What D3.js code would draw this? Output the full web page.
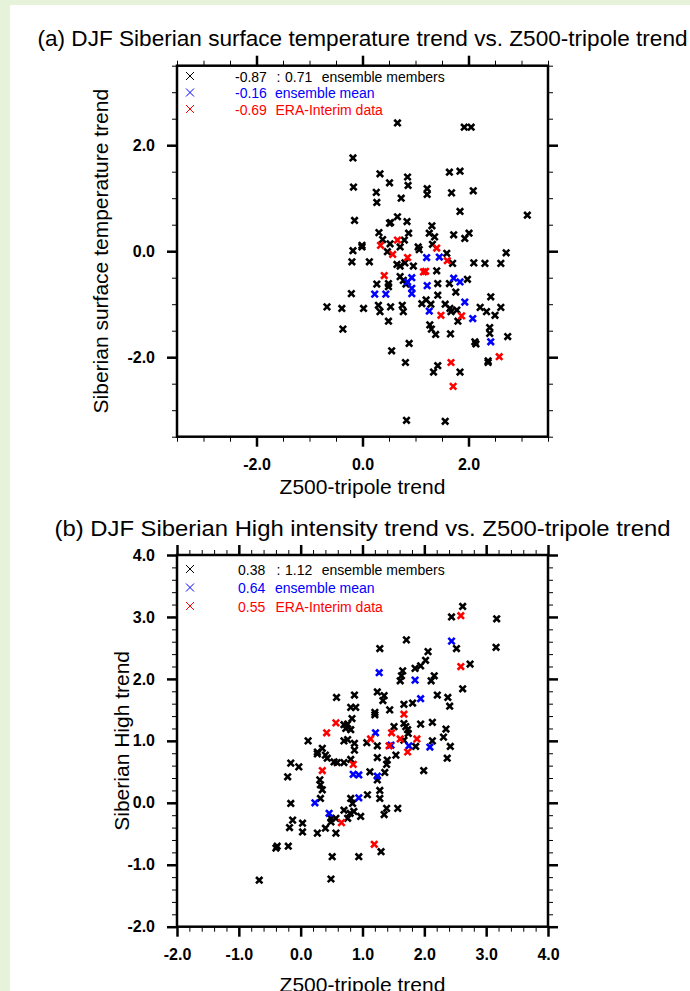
<!DOCTYPE html>
<html>
<head>
<meta charset="utf-8">
<script src="https://cdn.jsdelivr.net/npm/d3@7"></script>
<style>
  html, body { margin: 0; padding: 0; background: #e6f2d9; }
  svg { display: block; }
  text { font-family: "Liberation Sans", Arial, Helvetica, sans-serif; }
</style>
</head>
<body>
<svg id="fig" width="690" height="991"></svg>
<script>
// ---------- Panel (a): Siberian surface temperature trend vs. Z500-tripole trend ----------
const tempMembers = [
  [0.66,2.42],[1.92,2.34],[2.05,2.34],[-0.18,1.76],[0.33,1.46],[1.64,1.49],[1.84,1.51],
  [-0.17,1.21],[0.51,1.29],[0.85,1.40],[0.86,1.24],[0.26,1.11],[0.27,0.92],[1.22,1.18],
  [1.22,1.07],[1.68,1.10],[2.09,1.14],[0.73,1.00],[1.84,0.75],[-0.15,0.58],[3.11,0.68],
  [0.66,0.65],[0.51,0.53],[0.84,0.56],[0.53,0.54],[1.31,0.48],[1.26,0.34],[1.36,0.27],
  [0.31,0.35],[0.87,0.34],[1.72,0.31],[2.01,0.34],[1.93,0.24],[0.38,0.22],[-0.18,0.01],
  [-0.01,0.11],[-0.01,0.08],[2.71,-0.03],[1.05,0.08],[1.07,0.03],[0.52,0.14],[0.47,-0.01],
  [0.71,0.08],[0.79,0.21],[1.32,0.13],[1.59,-0.04],[1.70,-0.23],[-0.20,-0.20],[0.13,-0.20],
  [0.71,-0.28],[0.96,-0.28],[0.65,-0.25],[0.80,-0.22],[2.10,-0.22],[2.31,-0.23],[2.61,-0.23],
  [1.40,-0.37],[0.71,-0.48],[0.77,-0.55],[0.82,-0.62],[0.27,-0.62],[0.49,-0.61],[0.49,-0.67],
  [1.42,-0.61],[1.42,-0.83],[1.98,-0.53],[1.76,-0.77],[1.64,-0.61],[-0.21,-0.80],[2.42,-0.86],
  [-0.67,-1.05],[-0.39,-1.08],[0.02,-1.08],[0.30,-1.02],[0.33,-1.14],[0.53,-1.05],[0.75,-1.02],
  [0.77,-1.14],[1.12,-0.99],[1.20,-0.92],[1.29,-1.00],[1.56,-1.00],[1.65,-1.08],[1.67,-1.14],
  [1.78,-1.11],[1.80,-1.32],[2.22,-1.06],[2.34,-1.14],[2.50,-1.21],[2.61,-1.06],[-0.37,-1.47],
  [0.49,-1.32],[1.27,-1.39],[1.30,-1.47],[1.38,-1.57],[1.66,-1.56],[2.40,-1.44],[2.40,-1.55],
  [2.12,-1.71],[2.14,-1.75],[2.74,-1.61],[0.55,-1.88],[0.88,-1.74],[2.37,-2.07],[2.37,-2.10],
  [0.81,-2.10],[1.42,-2.16],[1.34,-2.28],[1.84,-2.28],[0.83,-3.19],[1.56,-3.21]
];
const tempMean = [
  [1.21,-0.12],[1.45,-0.11],[0.85,-0.58],[0.93,-0.50],[0.93,-0.70],[0.93,-0.80],[0.23,-0.81],
  [0.44,-0.81],[1.22,-0.65],[1.72,-0.51],[1.84,-0.58],[1.93,-0.96],[1.26,-1.13],[2.08,-1.27],
  [2.42,-1.71]
];
const tempEra = [
  [0.66,0.21],[0.34,0.11],[0.57,-0.06],[0.85,-0.12],[1.40,0.06],[1.60,-0.18],[0.41,-0.46],
  [1.15,-0.39],[1.19,-0.38],[1.48,-1.21],[1.87,-1.22],[2.58,-1.99],[1.67,-2.10],[1.71,-2.55]
];
// correlations printed in the legend: member range, ensemble mean, ERA-Interim
const tempCorrRange = [-0.87, 0.71];
const tempCorrMean = -0.16;
const tempCorrEra = -0.69;

// ---------- Panel (b): Siberian High intensity trend vs. Z500-tripole trend ----------
const highMembers = [
  [2.62,3.17],[2.44,3.00],[3.17,2.97],[1.71,2.63],[1.28,2.49],[2.52,2.49],[3.16,2.51],
  [2.06,2.44],[2.02,2.30],[1.94,2.21],[1.85,2.17],[2.74,2.24],[1.65,2.13],[1.63,2.05],
  [1.61,1.97],[2.16,2.05],[2.11,1.97],[2.62,1.84],[0.58,1.70],[0.87,1.74],[1.24,1.79],
  [1.35,1.73],[1.33,1.65],[2.21,1.74],[2.38,1.70],[2.41,1.56],[0.81,1.54],[0.89,1.54],
  [1.44,1.50],[1.67,1.59],[1.81,1.61],[1.20,1.46],[1.20,1.42],[0.83,1.36],[0.70,1.26],
  [0.76,1.27],[0.73,1.20],[0.81,1.18],[0.70,1.00],[0.76,1.02],[0.12,1.00],[0.87,0.96],
  [0.87,0.85],[1.67,1.28],[1.70,1.23],[1.73,1.18],[1.74,1.12],[1.51,1.23],[1.24,0.92],
  [1.07,0.97],[1.67,1.01],[1.86,0.91],[1.94,1.27],[2.13,1.30],[2.35,1.19],[2.31,1.06],
  [2.42,0.91],[2.13,1.00],[2.37,0.72],[1.99,0.52],[0.27,0.82],[0.27,0.79],[0.35,0.88],
  [0.40,0.77],[0.43,0.72],[0.54,0.66],[0.59,0.65],[0.70,0.65],[0.81,0.70],[-0.16,0.64],
  [-0.03,0.58],[-0.21,0.42],[1.12,0.50],[1.24,0.37],[1.36,0.49],[1.24,0.73],[1.40,0.69],
  [1.39,0.62],[1.54,0.77],[0.31,0.37],[0.32,0.29],[0.35,0.21],[0.32,0.07],[-0.16,-0.01],
  [0.81,0.07],[0.84,-0.01],[0.70,-0.12],[0.80,-0.17],[0.86,-0.14],[0.97,-0.22],[0.76,-0.25],
  [1.08,0.13],[1.28,0.20],[1.28,0.07],[1.39,-0.09],[1.35,-0.19],[1.57,-0.09],[0.49,-0.31],
  [0.40,-0.41],[0.57,-0.49],[0.49,-0.25],[0.57,-0.25],[0.27,-0.49],[-0.13,-0.28],[-0.18,-0.40],
  [0.03,-0.33],[0.03,-0.47],[-0.38,-0.70],[-0.40,-0.73],[-0.20,-0.70],[1.30,-0.79],[0.51,-0.87],
  [0.94,-0.87],[-0.67,-1.25],[0.49,-1.23]
];
const highMean = [
  [2.44,2.61],[1.27,2.10],[1.85,1.98],[1.94,1.68],[1.21,1.13],[1.46,0.93],[1.75,0.92],
  [2.09,0.90],[0.85,0.46],[0.94,0.45],[1.24,0.43],[0.23,0.00],[0.94,0.08],[0.46,-0.17]
];
const highEra = [
  [2.59,3.02],[2.59,2.20],[1.67,1.43],[0.57,1.29],[0.42,1.13],[1.47,1.13],[1.13,1.03],
  [1.61,1.03],[1.43,0.92],[1.88,1.03],[1.73,0.82],[0.85,0.62],[0.35,0.52],[0.66,-0.32],
  [1.19,-0.67]
];
const highCorrRange = [0.38, 1.12];
const highCorrMean = 0.64;
const highCorrEra = 0.55;

// axis tick values
const tempMajorTicks = [-2, 0, 2];
const tempMinorTicks = d3.range(-3.5, 3.51, 0.5);
const highMajorTicks = d3.range(-2, 4.01, 1);
const highMinorTicks = d3.range(-2, 4.01, 0.2);

const legendNames = ["ensemble members", "ensemble mean", "ERA-Interim data"];
const seriesColors = ["#000000", "#0000ff", "#ff0000"];

// ---------- drawing ----------
const svg = d3.select("#fig");
svg.append("rect").attr("x", 10).attr("y", 5).attr("width", 680).attr("height", 986).attr("fill", "#ffffff");

const fmt = v => (Math.abs(v) < 1e-9 ? 0 : v).toFixed(1);
const fmt2 = v => v.toFixed(2);
const XPATH = "M-3.2,-3.2L3.2,3.2M-3.2,3.2L3.2,-3.2";
const LEGX = "M-4,-4L4,4M-4,4L4,-4";

function drawPanel(p) {
  const x = d3.scaleLinear().domain(p.domain[0]).range([177, 548]);
  const y = d3.scaleLinear().domain(p.domain[1]).range([p.bottom, p.top]);
  const g = svg.append("g");

  // title
  g.append("text").attr("x", 362.5).attr("y", p.titleY).attr("text-anchor", "middle")
    .attr("font-size", 22.5).attr("textLength", p.titleWidth).attr("lengthAdjust", "spacingAndGlyphs")
    .text(p.title);

  // axes: minor ticks then major ticks on all four sides, pointing outward
  function addAxis(axisFn, scale, tr, ticks, size, width, labels) {
    const ax = axisFn(scale).tickValues(ticks).tickSize(size).tickSizeOuter(0)
      .tickFormat(labels ? fmt : "");
    const a = g.append("g").attr("transform", tr).call(ax);
    a.select(".domain").remove();
    a.selectAll(".tick line").attr("stroke", "#000").attr("stroke-width", width);
    a.selectAll(".tick text").attr("font-size", 16).attr("font-weight", "bold")
      .attr("fill", "#000").attr("font-family", "'Liberation Sans', Arial, sans-serif");
    return a;
  }
  [[d3.axisBottom, x, `translate(0,${p.bottom})`, false],
   [d3.axisTop, x, `translate(0,${p.top})`, true],
   [d3.axisLeft, y, "translate(177,0)", false],
   [d3.axisRight, y, "translate(548,0)", true]].forEach(([fn, sc, tr, top]) => {
    addAxis(fn, sc, tr, p.minor, 5, 1, false);
    const a = addAxis(fn, sc, tr, p.major, 10, 2.5, !top);
    if (!top) {
      if (fn === d3.axisBottom) a.selectAll(".tick text").attr("y", 0).attr("dy", 0).attr("transform", `translate(0,${p.xTickY - p.bottom})`);
      else a.selectAll(".tick text").attr("x", -22);
    }
  });

  // frame
  g.append("rect").attr("x", 177).attr("y", p.top).attr("width", 371).attr("height", p.bottom - p.top)
    .attr("fill", "none").attr("stroke", "#000").attr("stroke-width", 2.5);

  // axis labels
  g.append("text").attr("x", 362.5).attr("y", p.xLabelY).attr("text-anchor", "middle")
    .attr("font-size", 21).text("Z500-tripole trend");
  g.append("text").attr("transform", `translate(${p.yLabelX},${(p.top + p.bottom) / 2}) rotate(-90)`)
    .attr("text-anchor", "middle").attr("font-size", 21).text(p.yLabel);

  // markers: members, ensemble mean, ERA-Interim
  [p.members, p.mean, p.era].forEach((pts, i) => {
    g.append("g").selectAll("path").data(pts).join("path")
      .attr("d", XPATH)
      .attr("transform", d => `translate(${x(d[0])},${y(d[1])})`)
      .attr("stroke", seriesColors[i]).attr("stroke-width", 2.6).attr("fill", "none");
  });

  // legend
  const rowsY = p.legendRows;
  const leg = g.append("g");
  rowsY.forEach((ry, i) => {
    leg.append("path").attr("d", LEGX).attr("transform", `translate(190,${ry})`)
      .attr("stroke", seriesColors[i]).attr("stroke-width", 1).attr("fill", "none");
  });
  const t = (xx, yy, s, c) => leg.append("text").attr("x", xx).attr("y", yy + 5.5)
    .attr("font-size", 14).attr("fill", c).text(s);
  t(p.valX, rowsY[0], fmt2(p.range[0]), seriesColors[0]);
  t(276.5, rowsY[0], ":", seriesColors[0]);
  t(285, rowsY[0], fmt2(p.range[1]), seriesColors[0]);
  t(321.7, rowsY[0], legendNames[0], seriesColors[0]);
  t(p.valX, rowsY[1], fmt2(p.meanCorr), seriesColors[1]);
  t(275, rowsY[1], legendNames[1], seriesColors[1]);
  t(p.valX, rowsY[2], fmt2(p.eraCorr), seriesColors[2]);
  t(275.5, rowsY[2], legendNames[2], seriesColors[2]);
}

drawPanel({
  title: "(a) DJF Siberian surface temperature trend vs. Z500-tripole trend", titleWidth: 650,
  yLabel: "Siberian surface temperature trend",
  domain: [[-3.5, 3.5], [-3.5, 3.5]],
  top: 65.7, bottom: 436.7, titleY: 46, xTickY: 469.5, xLabelY: 493.5, yLabelX: 108,
  major: tempMajorTicks, minor: tempMinorTicks,
  members: tempMembers, mean: tempMean, era: tempEra,
  range: tempCorrRange, meanCorr: tempCorrMean, eraCorr: tempCorrEra,
  legendRows: [76, 92.5, 109], valX: 235
});

drawPanel({
  title: "(b) DJF Siberian High intensity trend vs. Z500-tripole trend", titleWidth: 616,
  yLabel: "Siberian High trend",
  domain: [[-2, 4], [-2, 4]],
  top: 555, bottom: 926.7, titleY: 536, xTickY: 959.5, xLabelY: 992, yLabelX: 129,
  major: highMajorTicks, minor: highMinorTicks,
  members: highMembers, mean: highMean, era: highEra,
  range: highCorrRange, meanCorr: highCorrMean, eraCorr: highCorrEra,
  legendRows: [569, 587.5, 606], valX: 238
});
</script>
</body>
</html>
